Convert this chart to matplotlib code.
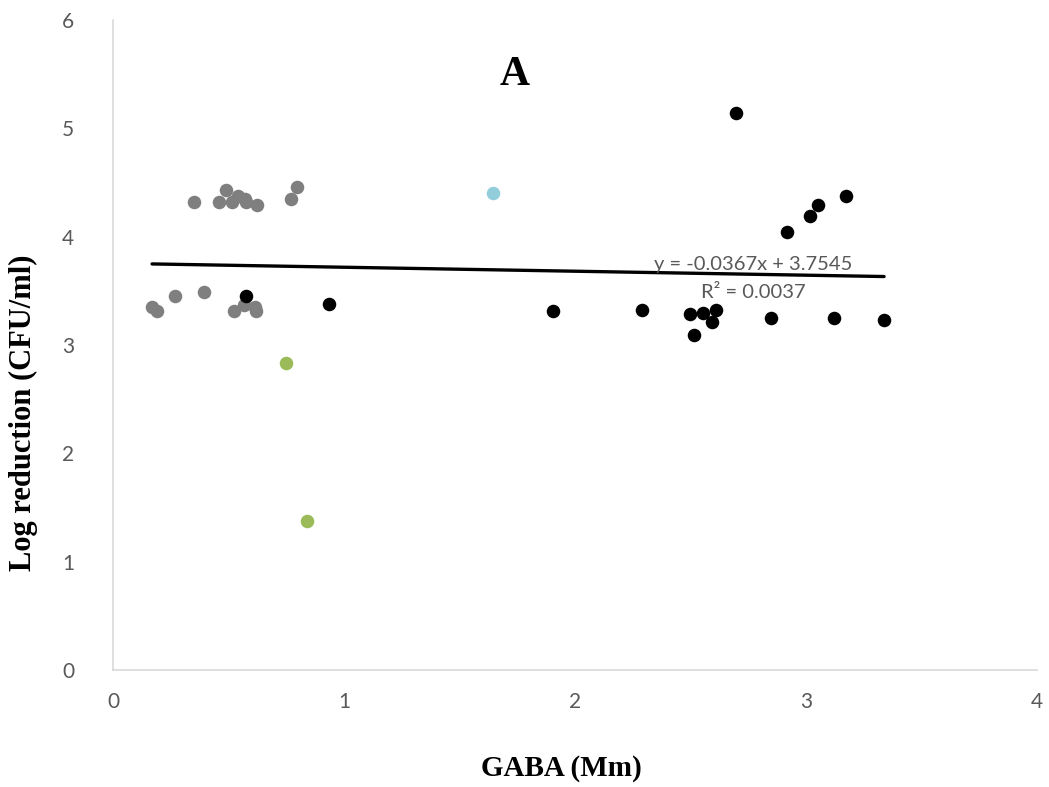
import matplotlib
matplotlib.use("Agg")
import matplotlib.pyplot as plt

# Gray series
gray_x = [0.169, 0.19, 0.268, 0.394, 0.351, 0.459, 0.489, 0.515, 0.541, 0.571, 0.576, 0.623,
          0.524, 0.567, 0.615, 0.619, 0.771, 0.797]
gray_y = [3.35, 3.31, 3.45, 3.49, 4.32, 4.32, 4.43, 4.32, 4.38, 4.35, 4.32, 4.29,
          3.31, 3.37, 3.35, 3.31, 4.35, 4.46]

# Black series
black_x = [0.576, 0.935, 1.905, 2.289, 2.696, 3.172, 3.05, 3.017, 2.916, 2.499, 2.554,
           2.612, 2.594, 2.515, 2.85, 3.123, 3.338]
black_y = [3.45, 3.38, 3.31, 3.32, 5.14, 4.375, 4.29, 4.19, 4.04, 3.29, 3.30,
           3.32, 3.21, 3.09, 3.245, 3.245, 3.23]

# Green series
green_x = [0.75, 0.838]
green_y = [2.83, 1.38]

# Blue series
blue_x = [1.646]
blue_y = [4.40]

slope = -0.0367
intercept = 3.7545
r2 = 0.0037

x_ticks = [0, 1, 2, 3, 4]
y_ticks = [0, 1, 2, 3, 4, 5, 6]

fig = plt.figure(figsize=(10.49, 7.87), dpi=100)
ax = fig.add_axes([113/1049, 117/787, (1037-113)/1049, (670-20)/787])

ms = 95
ax.scatter(gray_x, gray_y, s=ms, color="#7f7f7f", linewidths=0, zorder=3)
ax.scatter(black_x, black_y, s=ms, color="#000000", linewidths=0, zorder=3)
ax.scatter(green_x, green_y, s=ms, color="#9bbb59", linewidths=0, zorder=3)
ax.scatter(blue_x, blue_y, s=ms, color="#92cddc", linewidths=0, zorder=3)

all_x = gray_x + black_x + green_x + blue_x
x0, x1 = min(all_x), max(all_x)
ax.plot([x0, x1], [slope * x0 + intercept, slope * x1 + intercept],
        color="black", lw=2.4, solid_capstyle="round", zorder=2)

ax.text(2.77, 3.745, f"y = {slope}x + {intercept}", fontsize=14.5, family="Lato",
        color="#595959", ha="center", va="center", zorder=4)
ax.text(2.77, 3.48, f"R² = {r2}", fontsize=14.5, family="Lato",
        color="#595959", ha="center", va="center", zorder=4)

ax.text(1.74, 5.49, "A", fontsize=30, family="Liberation Serif", weight="bold",
        ha="center", va="center")

ax.set_xlim(0, 4)
ax.set_ylim(0, 6)
ax.set_xticks(x_ticks)
ax.set_yticks(y_ticks)
for s in ["top", "right"]:
    ax.spines[s].set_visible(False)
for s in ["left", "bottom"]:
    ax.spines[s].set_color("#d9d9d9")
    ax.spines[s].set_linewidth(1.2)
ax.tick_params(axis="both", length=0, labelsize=15, labelcolor="#595959")
ax.tick_params(axis="x", pad=16)
ax.tick_params(axis="y", pad=28)
for lab in ax.get_xticklabels() + ax.get_yticklabels():
    lab.set_family("Lato")

ax.set_xlabel("GABA (Mm)", fontsize=21, family="Liberation Serif", weight="bold")
ax.set_ylabel("Log reduction (CFU/ml)", fontsize=22, family="Liberation Serif", weight="bold")
ax.xaxis.set_label_coords((561 - 113) / 924, (670 - 768) / 650)
ax.yaxis.set_label_coords((23 - 113) / 924, (670 - 413) / 650)
ax.xaxis.label.set_va("center")
ax.yaxis.label.set_va("center")

fig.savefig("out.png", dpi=100)
